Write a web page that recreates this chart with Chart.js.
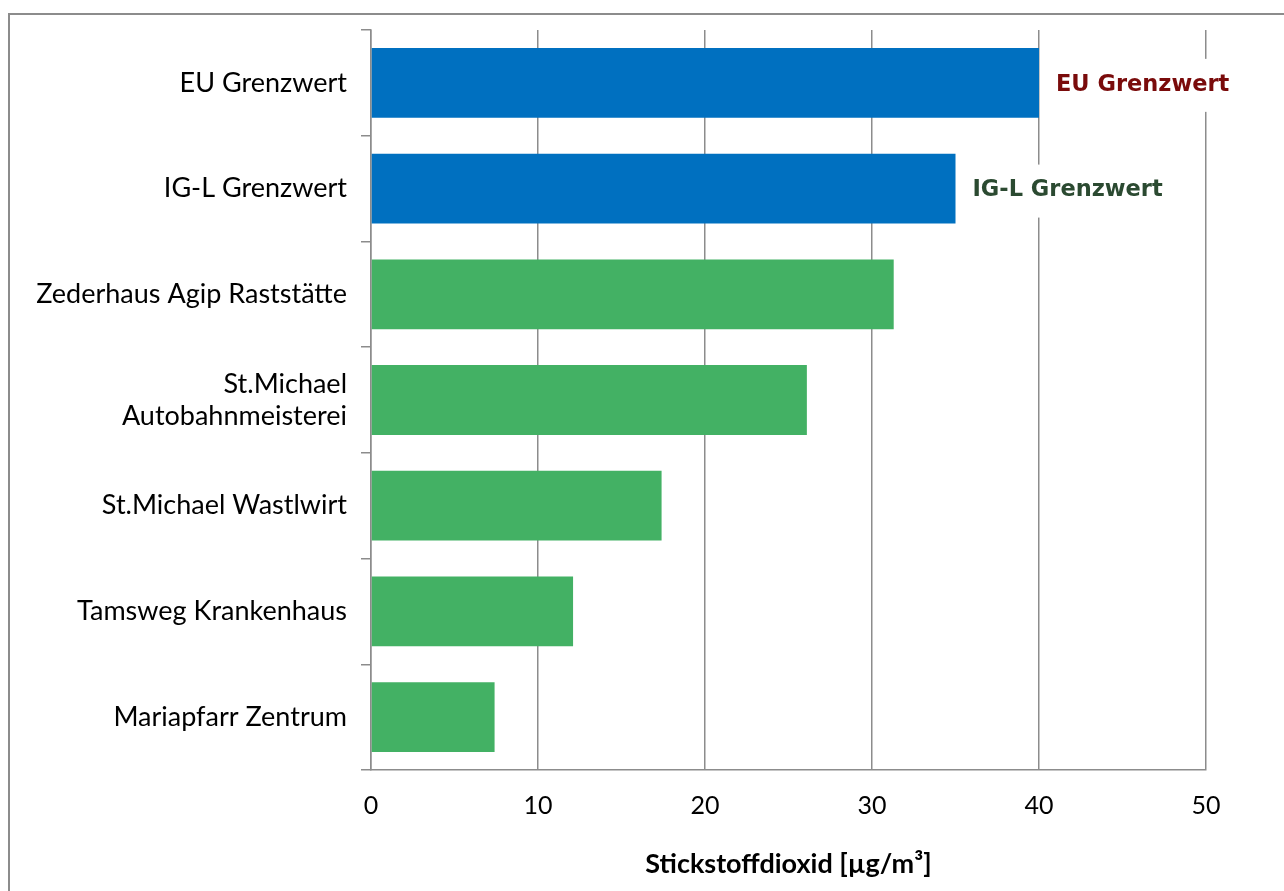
<!DOCTYPE html>
<html lang="de">
<head>
    <meta charset="UTF-8">
    <title>Stickstoffdioxid</title>
    <script src="https://cdn.jsdelivr.net/npm/chart.js"></script>
    <style>
        html, body { margin: 0; padding: 0; background: #fff; }
        #frame {
            position: absolute; left: 8px; top: 13px; width: 1400px; height: 1000px;
            border-left: 2px solid #8c8c8c; border-top: 2px solid #8c8c8c;
        }
        #wrap { position: absolute; left: 0; top: 0; width: 1284px; height: 891px; }
    </style>
</head>
<body>
    <div id="frame"></div>
    <div id="wrap"><canvas id="chart" width="1284" height="891"></canvas></div>

    <script>
        // Daten
        const stationen = [
            'EU Grenzwert',
            'IG-L Grenzwert',
            'Zederhaus Agip Raststätte',
            ['St.Michael', 'Autobahnmeisterei'],
            'St.Michael Wastlwirt',
            'Tamsweg Krankenhaus',
            'Mariapfarr Zentrum'
        ];
        const werte = [40, 35, 31.3, 26.1, 17.4, 12.1, 7.4];
        const farben = ['#0070C0', '#0070C0', '#43B164', '#43B164', '#43B164', '#43B164', '#43B164'];
        const xTicks = [0, 10, 20, 30, 40, 50];
        const achsenTitel = 'Stickstoffdioxid [µg/m³]';

        // Beschriftungen neben den Grenzwert-Balken
        const grenzLabels = [
            { index: 0, text: 'EU Grenzwert', color: '#7A0B0B' },
            { index: 1, text: 'IG-L Grenzwert', color: '#2B4A31' }
        ];

        const grenzPlugin = {
            id: 'grenzLabels',
            afterDatasetsDraw(chart) {
                const ctx = chart.ctx;
                const xs = chart.scales.x, ys = chart.scales.y;
                ctx.save();
                ctx.font = 'bold 22.5px "DejaVu Sans"';
                ctx.textBaseline = 'middle';
                grenzLabels.forEach(l => {
                    const x = xs.getPixelForValue(werte[l.index]) + 17;
                    const y = ys.getPixelForValue(l.index) + 2;
                    const w = ctx.measureText(l.text).width;
                    ctx.fillStyle = '#fff';
                    ctx.fillRect(x - 6, y - 26, w + 12, 53);
                    ctx.fillStyle = l.color;
                    ctx.fillText(l.text, x, y);
                });
                ctx.restore();
            }
        };

        new Chart(document.getElementById('chart'), {
            type: 'bar',
            data: {
                labels: stationen,
                datasets: [{
                    data: werte,
                    backgroundColor: farben,
                    borderWidth: 0,
                    barPercentage: 0.66,
                    categoryPercentage: 1
                }]
            },
            options: {
                indexAxis: 'y',
                responsive: false,
                animation: false,
                layout: { padding: { left: 0, top: 30, right: 78, bottom: 0 } },
                plugins: { legend: { display: false }, tooltip: { enabled: false } },
                scales: {
                    x: {
                        min: 0, max: 50,
                        afterBuildTicks(scale) { scale.ticks = xTicks.map(v => ({ value: v })); },
                        afterFit(scale) { scale.height = 121; },
                        grid: { color: '#8c8c8c', lineWidth: 1.5, drawTicks: false },
                        border: { color: '#8c8c8c', width: 1.5 },
                        ticks: { color: '#000', padding: 21, font: { family: 'Lato', size: 25 } },
                        title: {
                            display: true, text: achsenTitel, color: '#000',
                            font: { family: 'Lato', size: 27, weight: 'bold' },
                            padding: { top: 0, bottom: 11 }
                        }
                    },
                    y: {
                        afterFit(scale) { scale.width = 371; },
                        grid: { offset: true, drawOnChartArea: false, tickLength: 10, color: '#8c8c8c', lineWidth: 1.5 },
                        border: { color: '#8c8c8c', width: 1.5 },
                        ticks: { color: '#000', padding: 14, font: { family: 'Lato', size: 27, lineHeight: 1.18 } }
                    }
                }
            },
            plugins: [grenzPlugin]
        });
    </script>
</body>
</html>
